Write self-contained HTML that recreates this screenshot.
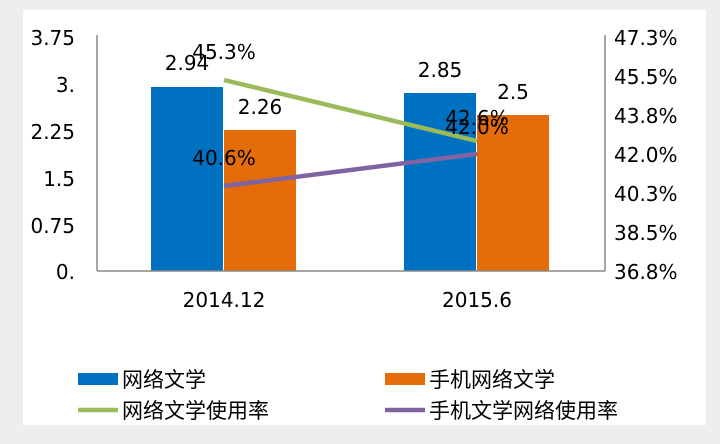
<!DOCTYPE html>
<html><head><meta charset="utf-8"><style>
body{margin:0;background:#efefef;}
svg{display:block;font-family:"DejaVu Sans","Noto Sans CJK SC",sans-serif;}
</style></head><body>
<svg width="720" height="444" viewBox="0 0 720 444">
<rect x="0" y="0" width="720" height="444" fill="#eeeeee"/>
<rect x="23" y="10" width="683" height="415" fill="#ffffff"/>
<rect x="151" y="87" width="72" height="184" fill="#0070c0"/>
<rect x="224" y="130" width="72" height="141" fill="#e46c0a"/>
<rect x="404" y="93" width="72" height="178" fill="#0070c0"/>
<rect x="477" y="115" width="72" height="156" fill="#e46c0a"/>
<g stroke="#888" stroke-width="1.5">
<line x1="97" y1="35" x2="97" y2="271"/>
<line x1="605" y1="35" x2="605" y2="271"/>
<line x1="97" y1="271" x2="605" y2="271"/>
</g>
<line x1="224" y1="80" x2="477" y2="141" stroke="#9bbb59" stroke-width="4.5"/>
<line x1="224" y1="186" x2="477" y2="154" stroke="#8064a2" stroke-width="4.5"/>
<g font-size="20" fill="#000">
<g text-anchor="end">
<text x="75" y="45">3.75</text><text x="75" y="92">3.</text><text x="75" y="139">2.25</text>
<text x="75" y="186">1.5</text><text x="75" y="233">0.75</text><text x="75" y="279">0.</text>
</g>
<g text-anchor="start">
<text x="614" y="45">47.3%</text><text x="614" y="84">45.5%</text><text x="614" y="123">43.8%</text>
<text x="614" y="162">42.0%</text><text x="614" y="201">40.3%</text><text x="614" y="240">38.5%</text><text x="614" y="279">36.8%</text>
</g>
<g text-anchor="middle">
<text x="187" y="70">2.94</text><text x="260" y="114">2.26</text>
<text x="440" y="77">2.85</text><text x="513" y="99">2.5</text>
<text x="224" y="59">45.3%</text><text x="224" y="165">40.6%</text>
<text x="477" y="125">42.6%</text><text x="477" y="134">42.0%</text>
<text x="224" y="307">2014.12</text><text x="477" y="307">2015.6</text>
</g>
<g font-size="21">
<rect x="78" y="373" width="40" height="12" fill="#0070c0"/>
<text x="122" y="387">网络文学</text>
<rect x="385" y="373" width="40" height="12" fill="#e46c0a"/>
<text x="429" y="387">手机网络文学</text>
<line x1="78" y1="410" x2="118" y2="410" stroke="#9bbb59" stroke-width="4.5"/>
<text x="122" y="418">网络文学使用率</text>
<line x1="385" y1="410" x2="425" y2="410" stroke="#8064a2" stroke-width="4.5"/>
<text x="429" y="418">手机文学网络使用率</text>
</g>
</g>
</svg>
</body></html>
